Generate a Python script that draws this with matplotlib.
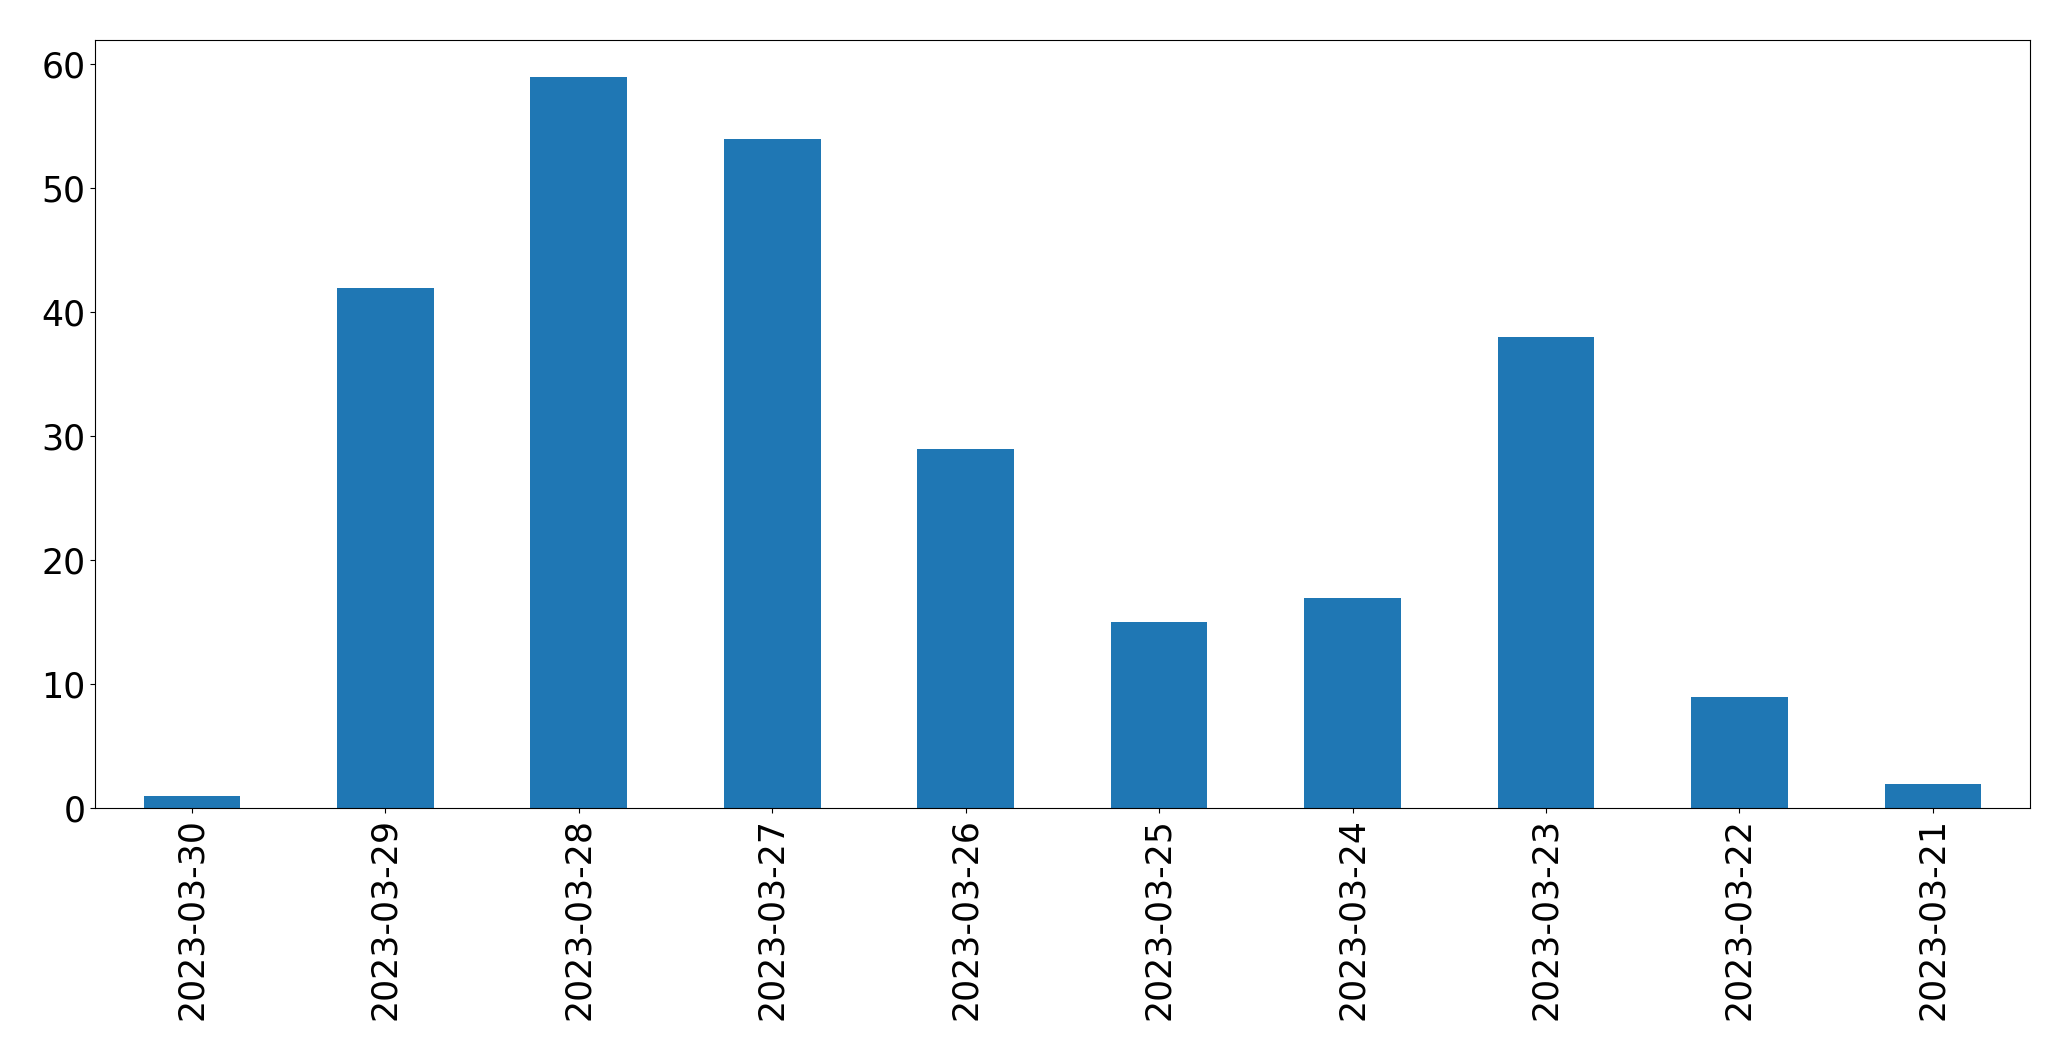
import matplotlib
matplotlib.use("Agg")
import matplotlib.pyplot as plt
import pandas as pd

dates = ["2023-03-30", "2023-03-29", "2023-03-28", "2023-03-27", "2023-03-26",
         "2023-03-25", "2023-03-24", "2023-03-23", "2023-03-22", "2023-03-21"]
counts = [1, 42, 59, 54, 29, 15, 17, 38, 9, 2]

series = pd.Series(counts, index=dates)

fig, ax = plt.subplots(figsize=(20.71, 10.61), dpi=100)
series.plot(kind="bar", ax=ax, color="#1f77b4")
ax.tick_params(axis="both", labelsize=25)
ax.set_xlabel("")
fig.subplots_adjust(left=0.046, right=0.98, top=0.962, bottom=0.238)
fig.savefig("out.png")
